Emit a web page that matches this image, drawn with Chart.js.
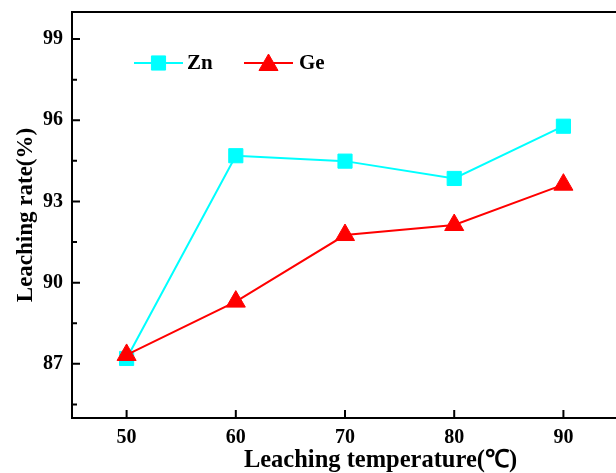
<!DOCTYPE html>
<html>
<head>
<meta charset="utf-8">
<script src="https://cdn.jsdelivr.net/npm/chart.js@4"></script>
<style>
  html, body { margin: 0; padding: 0; background: #fff; overflow: hidden; }
  #wrap { width: 616px; height: 473px; overflow: hidden; }
</style>
</head>
<body>
<div id="wrap"><canvas id="grafico" width="701" height="473"></canvas></div>
<script>
// ===== DADOS =====
const temperaturas = [50, 60, 70, 80, 90];
const zn = [87.2, 94.69, 94.49, 93.85, 95.78];
const ge = [87.33, 89.3, 91.76, 92.13, 93.62];
const xTicks = [50, 60, 70, 80, 90];
const yTicks = [87, 90, 93, 96, 99];
const yMinor = [85.5, 88.5, 91.5, 94.5, 97.5];

const fonte = "'Liberation Serif', 'Times New Roman', serif";

// ===== MOLDURA, TICKS PARA DENTRO E LEGENDA =====
const moldura = {
  id: "moldura",
  beforeDatasetsDraw(chart) {
    const { ctx, chartArea: a, scales } = chart;
    ctx.save();
    ctx.strokeStyle = "#000";
    ctx.lineWidth = 2;
    ctx.strokeRect(a.left, a.top, a.right - a.left, a.bottom - a.top);
    ctx.beginPath();
    xTicks.forEach(v => {
      const x = scales.x.getPixelForValue(v);
      ctx.moveTo(x, a.bottom);
      ctx.lineTo(x, a.bottom - 8);
    });
    yTicks.forEach(v => {
      const y = scales.y.getPixelForValue(v);
      ctx.moveTo(a.left, y);
      ctx.lineTo(a.left + 8, y);
    });
    yMinor.forEach(v => {
      const y = scales.y.getPixelForValue(v);
      ctx.moveTo(a.left, y);
      ctx.lineTo(a.left + 5, y);
    });
    ctx.stroke();
    ctx.restore();
  },
  afterDraw(chart) {
    const { ctx } = chart;
    const itens = [
      { ds: chart.data.datasets[0], x0: 134, x1: 183, tx: 187 },
      { ds: chart.data.datasets[1], x0: 244, x1: 293, tx: 299 }
    ];
    const y = 63;
    ctx.save();
    itens.forEach(it => {
      ctx.strokeStyle = it.ds.borderColor;
      ctx.lineWidth = 2;
      ctx.beginPath();
      ctx.moveTo(it.x0, y);
      ctx.lineTo(it.x1, y);
      ctx.stroke();
      ctx.fillStyle = it.ds.pointBackgroundColor;
      ctx.strokeStyle = it.ds.borderColor;
      ctx.lineWidth = 1;
      Chart.helpers.drawPoint(ctx, {
        pointStyle: it.ds.pointStyle,
        radius: it.ds.pointRadius,
        rotation: 0,
        borderWidth: 1
      }, (it.x0 + it.x1) / 2, it.ds.pointStyle === "triangle" ? y + 2 : y);
      ctx.fillStyle = "#000";
      ctx.font = "bold 21px " + fonte;
      ctx.textBaseline = "middle";
      ctx.textAlign = "left";
      ctx.fillText(it.ds.label, it.tx, y + 1);
    });
    ctx.restore();
  }
};

// ===== GRÁFICO =====
new Chart(document.getElementById("grafico"), {
  type: "line",
  data: {
    datasets: [
      {
        label: "Zn",
        order: 1,
        data: temperaturas.map((t, i) => ({ x: t, y: zn[i] })),
        borderColor: "#00FFFF",
        backgroundColor: "#00FFFF",
        pointBackgroundColor: "#00FFFF",
        pointBorderColor: "#00FFFF",
        borderWidth: 2,
        pointStyle: "rect",
        pointRadius: 10,
        pointBorderWidth: 1,
        tension: 0
      },
      {
        label: "Ge",
        order: 0,
        data: temperaturas.map((t, i) => ({ x: t, y: ge[i] })),
        borderColor: "#FF0000",
        backgroundColor: "#FF0000",
        pointBackgroundColor: "#FF0000",
        pointBorderColor: "#FF0000",
        borderWidth: 2,
        pointStyle: "triangle",
        pointRadius: 11,
        pointBorderWidth: 1,
        tension: 0
      }
    ]
  },
  options: {
    responsive: false,
    animation: false,
    layout: { padding: { top: 12, right: 2, left: 0, bottom: 0 } },
    plugins: { legend: { display: false }, tooltip: { enabled: false } },
    scales: {
      x: {
        type: "linear",
        min: 45,
        max: 101.5,
        grid: { display: false, drawTicks: false },
        border: { display: false },
        afterFit: s => { s.height = 55; s.paddingLeft = 0; s.paddingRight = 0; },
        afterBuildTicks: s => { s.ticks = xTicks.map(v => ({ value: v })); },
        ticks: {
          color: "#000",
          padding: 10,
          maxRotation: 0,
          font: { family: fonte, size: 20, weight: "bold", lineHeight: 1 },
          callback: v => String(v)
        },
        title: {
          display: true,
          text: "Leaching temperature(℃)",
          color: "#000",
          padding: { top: 0, bottom: 0 },
          font: { family: fonte, size: 24.5, weight: "bold", lineHeight: 1 }
        }
      },
      y: {
        min: 85,
        max: 100,
        grid: { display: false, drawTicks: false },
        border: { display: false },
        afterFit: s => { s.width = 72; s.paddingTop = 0; s.paddingBottom = 0; },
        afterBuildTicks: s => { s.ticks = yTicks.map(v => ({ value: v })); },
        ticks: {
          color: "#000",
          padding: 9,
          font: { family: fonte, size: 20, weight: "bold", lineHeight: 1 },
          callback: v => String(v)
        },
        title: {
          display: true,
          text: "Leaching rate(%)",
          color: "#000",
          padding: { top: 15, bottom: 0 },
          font: { family: fonte, size: 23, weight: "bold", lineHeight: 1 }
        }
      }
    }
  },
  plugins: [moldura]
});
</script>
</body>
</html>
